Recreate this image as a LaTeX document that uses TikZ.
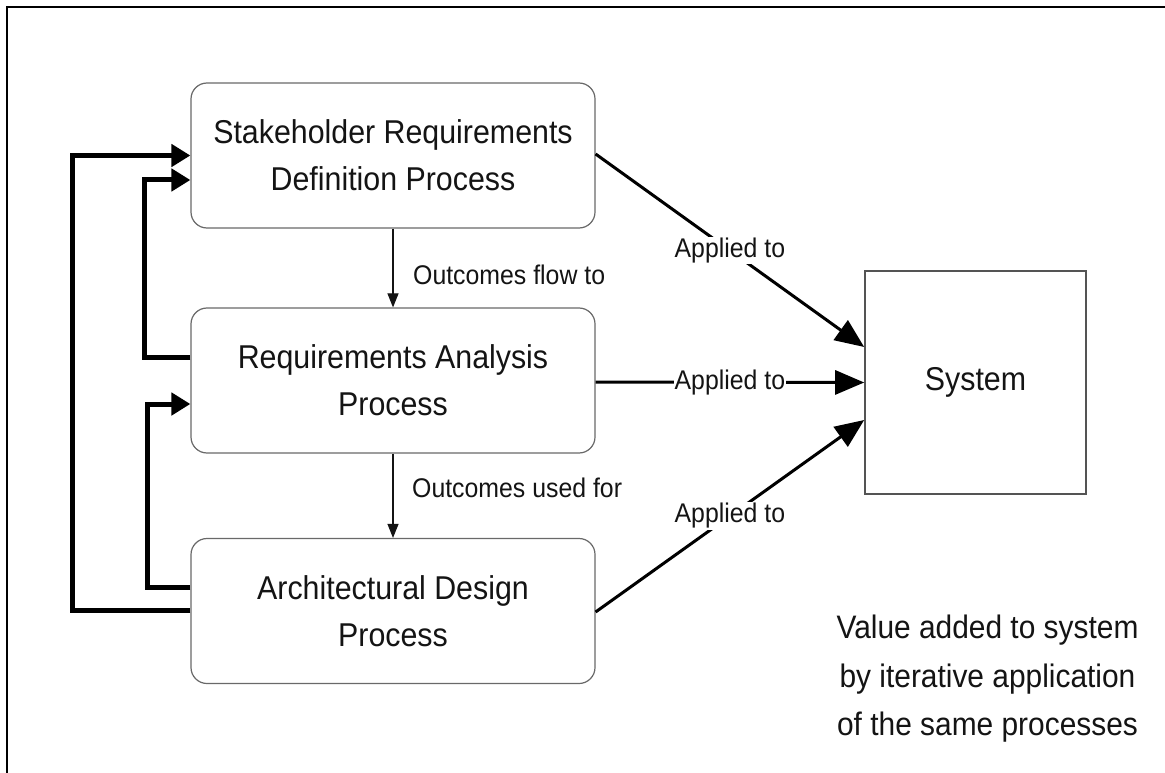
\documentclass[tikz,border=0pt]{standalone}
\usepackage{fontspec}
\setmainfont{Liberation Sans}[FakeStretch=0.92]
\usetikzlibrary{arrows.meta}

\definecolor{boxgray}{RGB}{105,105,105}
\definecolor{inkblack}{RGB}{20,20,20}

\tikzset{
  procbox/.style={draw=boxgray, line width=1.2pt, rounded corners=16pt,
    minimum width=404pt, minimum height=145pt, align=center,
    text=inkblack, font=\fontsize{33pt}{47pt}\selectfont},
  sysbox/.style={draw=boxgray!80!black, line width=1.6pt,
    minimum width=221pt, minimum height=223pt,
    text=inkblack, font=\fontsize{33pt}{40pt}\selectfont},
  lbl/.style={text=inkblack, inner sep=1pt, font=\fontsize{27pt}{32pt}\selectfont},
  onlinelbl/.style={lbl, fill=white},
  flowarrow/.style={draw=inkblack, line width=1.1pt,
    -{Triangle[length=14pt,width=11pt]}},
  feedback/.style={draw=black, line width=5pt,
    -{Triangle[length=19pt,width=22pt]}},
  applyarrow/.style={draw=black, line width=3pt,
    -{Triangle[length=29pt,width=24pt]}},
  notetext/.style={text=inkblack, align=center,
    font=\fontsize{32.5pt}{48.5pt}\selectfont}
}

\begin{document}
\begin{tikzpicture}[x=1pt, y=-1pt]
  \useasboundingbox (0,0) rectangle (1165,773);
  \fill[white] (0,0) rectangle (1165,773);

  % outer frame (its right and bottom sides lie beyond the page)
  \begin{scope}
    \clip (0,0) rectangle (1165,773);
    \draw[line width=2pt, black] (7,7) rectangle (1180,790);
  \end{scope}

  % process boxes
  \node[procbox] (s) at (393,155.5) {Stakeholder Requirements\\Definition Process};
  \node[procbox] (r) at (393,380.5) {Requirements Analysis\\Process};
  \node[procbox] (a) at (393,611)   {Architectural Design\\Process};

  % the system
  \node[sysbox] (sys) at (975.5,382.5) {System};

  % downward flow between processes
  \draw[flowarrow] (s.south) -- (r.north);
  \draw[flowarrow] (r.south) -- (a.north);
  \node[lbl, anchor=west] (flowlbl) at (412,275) {Outcomes flow to};
  \node[lbl, anchor=west] (usedlbl) at (411,488) {Outcomes used for};

  % feedback loops on the left
  \draw[feedback] ([yshift=1pt]a.west) -- ++(-118,0) |- (s.west);
  \draw[feedback] ([yshift=23.5pt]r.west) -- ++(-46,0) |- ([yshift=-24.5pt]s.west);
  \draw[feedback] ([yshift=24pt]a.west) -- ++(-43,0) |- ([yshift=-23.5pt]r.west);

  % each process applied to the system
  \draw[applyarrow] ([yshift=1.5pt]s.east) -- node[onlinelbl] (ap1) {Applied to} ([yshift=35.5pt]sys.west);
  \draw[applyarrow] ([yshift=-1.5pt]r.east) -- node[onlinelbl] (ap2) {Applied to} (sys.west);
  \draw[applyarrow] ([yshift=-1pt]a.east) -- node[onlinelbl] (ap3) {Applied to} ([yshift=-37.5pt]sys.west);

  % note
  \node[notetext] (note) at (987.5,679) {Value added to system\\by iterative application\\of the same processes};
\end{tikzpicture}
\end{document}
